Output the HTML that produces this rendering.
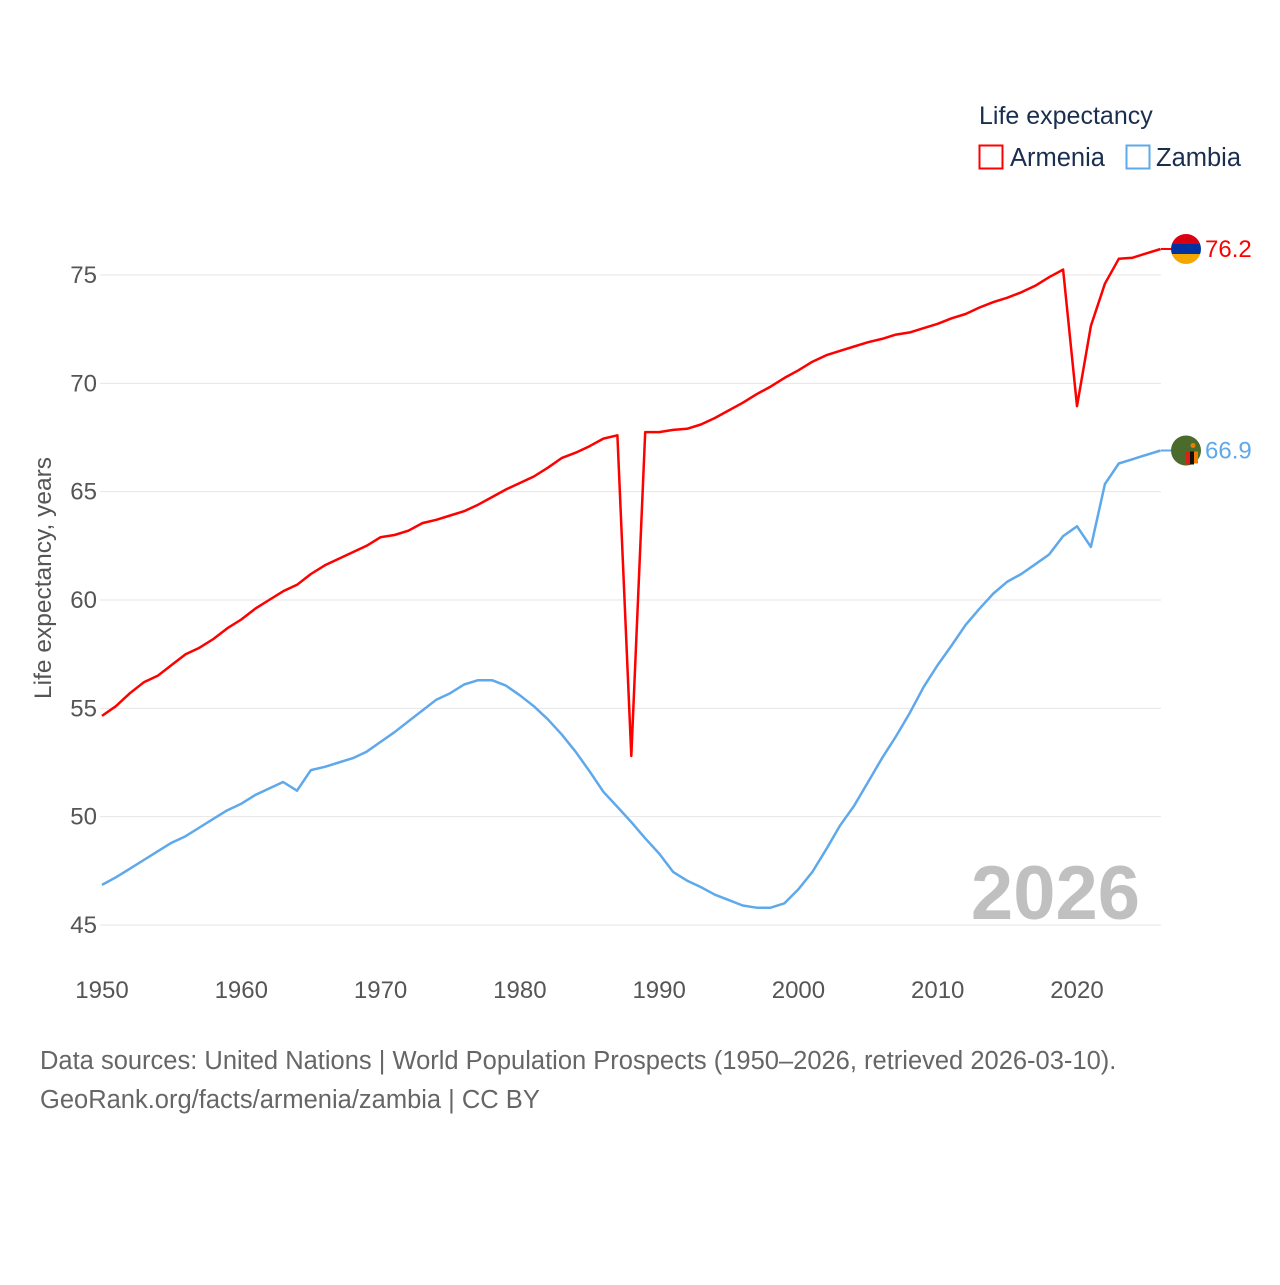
<!DOCTYPE html>
<html><head><meta charset="utf-8"><style>
body{margin:0;background:#fff;width:1280px;height:1280px;overflow:hidden;font-family:"Liberation Sans",sans-serif}
</style></head><body>
<svg id="chart" width="1280" height="1280" xmlns="http://www.w3.org/2000/svg" font-family="Liberation Sans, sans-serif"></svg>
<script>
const years=[];for(let y=1950;y<=2026;y++)years.push(y);
const armenia=[54.65,55.1,55.7,56.2,56.5,57.0,57.5,57.8,58.2,58.7,59.1,59.6,60.0,60.4,60.7,61.2,61.6,61.9,62.2,62.5,62.9,63.0,63.2,63.55,63.7,63.9,64.1,64.4,64.75,65.1,65.4,65.7,66.1,66.55,66.8,67.1,67.45,67.6,52.8,67.75,67.75,67.85,67.9,68.1,68.4,68.75,69.1,69.5,69.85,70.25,70.6,71.0,71.3,71.5,71.7,71.9,72.05,72.25,72.35,72.55,72.75,73.0,73.2,73.5,73.75,73.95,74.2,74.5,74.9,75.25,68.95,72.65,74.6,75.75,75.8,76.0,76.2];
const zambia=[46.85,47.2,47.6,48.0,48.4,48.8,49.1,49.5,49.9,50.3,50.6,51.0,51.3,51.6,51.2,52.15,52.3,52.5,52.7,53.0,53.45,53.9,54.4,54.9,55.4,55.7,56.1,56.3,56.3,56.05,55.6,55.1,54.5,53.8,53.0,52.1,51.15,50.45,49.75,49.0,48.3,47.45,47.05,46.75,46.4,46.15,45.9,45.8,45.8,46.0,46.65,47.45,48.5,49.6,50.5,51.6,52.7,53.7,54.8,56.0,57.0,57.9,58.85,59.6,60.3,60.85,61.2,61.65,62.1,62.95,63.4,62.45,65.35,66.3,66.5,66.7,66.9];
const yTicks=[45,50,55,60,65,70,75];
const xTicks=[1950,1960,1970,1980,1990,2000,2010,2020];
const NS="http://www.w3.org/2000/svg";
const svg=document.getElementById('chart');
const X=y=>102+(y-1950)*(1077-102)/70;
const Y=v=>925-(v-45)*650/30;
function el(t,a,txt){const e=document.createElementNS(NS,t);for(const k in a)e.setAttribute(k,a[k]);if(txt!==undefined)e.textContent=txt;svg.appendChild(e);return e;}
yTicks.forEach(v=>{
 const g=el('line',{x1:100,x2:1161,y1:Y(v),y2:Y(v),stroke:'#e6e6e6','stroke-width':1});
 
 
 const t=el('text',{x:97,y:Y(v)+8,'text-anchor':'end','font-size':24,fill:'#555'},v);
 
 
});
xTicks.forEach(v=>{
 const t=el('text',{x:X(v),y:998,'text-anchor':'middle','font-size':24,fill:'#555'},v);
 
 
});
const yt=el('text',{x:0,y:0,transform:'translate(51,578) rotate(-90)','text-anchor':'middle','font-size':24.5,fill:'#555'},'Life expectancy, years');


const yr=el('text',{x:1140,y:919,'text-anchor':'end','font-size':76,'font-weight':'bold',fill:'#c0c0c0'},'2026');


function line(data,color,name){
 const n=Math.min(data.length,years.length);
 let d='';for(let i=0;i<n;i++)d+=(i?'L':'M')+X(years[i]).toFixed(1)+','+Y(data[i]).toFixed(1);
 const p=el('path',{d:d,fill:'none',stroke:color,'stroke-width':2.5,'stroke-linejoin':'round'});
 
 
}
line(armenia,'#ff0000','armenia-line');
line(zambia,'#5ea8ec','zambia-line');
const aLast=armenia[armenia.length-1], zLast=zambia[zambia.length-1];
const ay=Y(aLast), zy=Y(zLast);
el('line',{x1:1161,x2:1172,y1:ay,y2:ay,stroke:'#ff0000','stroke-width':2});
el('line',{x1:1161,x2:1172,y1:zy,y2:zy,stroke:'#5ea8ec','stroke-width':2});
const defs=el('defs',{});
const cp=document.createElementNS(NS,'clipPath');cp.setAttribute('id','ca');
const cc=document.createElementNS(NS,'circle');cc.setAttribute('cx',1186);cc.setAttribute('cy',ay);cc.setAttribute('r',15);cp.appendChild(cc);defs.appendChild(cp);
const fa=el('g',{'clip-path':'url(#ca)'});


[['#d90012',-15],['#0033a0',-5],['#f2a800',5]].forEach(([c,o])=>{const r=document.createElementNS(NS,'rect');r.setAttribute('x',1171);r.setAttribute('y',ay+o);r.setAttribute('width',30);r.setAttribute('height',10);r.setAttribute('fill',c);fa.appendChild(r);});
const zf=el('circle',{cx:1186,cy:zy,r:15,fill:'#4a6b2c'});


el('rect',{x:1186,y:zy+1,width:4,height:13,fill:'#de2010'});
el('rect',{x:1190,y:zy+1,width:4,height:13,fill:'#111'});
el('rect',{x:1194,y:zy+1,width:4,height:12,fill:'#ef7d00'});
el('circle',{cx:1193,cy:zy-5,r:2.5,fill:'#ef7d00'});
const al=el('text',{x:1205,y:ay+8,'font-size':24,fill:'#ff0000'},aLast.toFixed(1));


const zl=el('text',{x:1205,y:zy+8,'font-size':24,fill:'#5ea8ec'},zLast.toFixed(1));


const lt=el('text',{x:979,y:124,'font-size':25,fill:'#1a2e4f'},'Life expectancy');


const l1=el('rect',{x:979.5,y:145.5,width:23,height:23,fill:'none',stroke:'#ff0000','stroke-width':2});


const l1t=el('text',{x:1010,y:166,'font-size':25.5,fill:'#1a2e4f'},'Armenia');


const l2=el('rect',{x:1126.5,y:145.5,width:23,height:23,fill:'none',stroke:'#5ea8ec','stroke-width':2});


const l2t=el('text',{x:1156,y:166,'font-size':25.5,fill:'#1a2e4f'},'Zambia');


const s1=el('text',{x:40,y:1069,'font-size':25.5,fill:'#666'},'Data sources: United Nations | World Population Prospects (1950–2026, retrieved 2026-03-10).');


const s2=el('text',{x:40,y:1108,'font-size':25.5,fill:'#666'},'GeoRank.org/facts/armenia/zambia | CC BY');


</script>
</body></html>
